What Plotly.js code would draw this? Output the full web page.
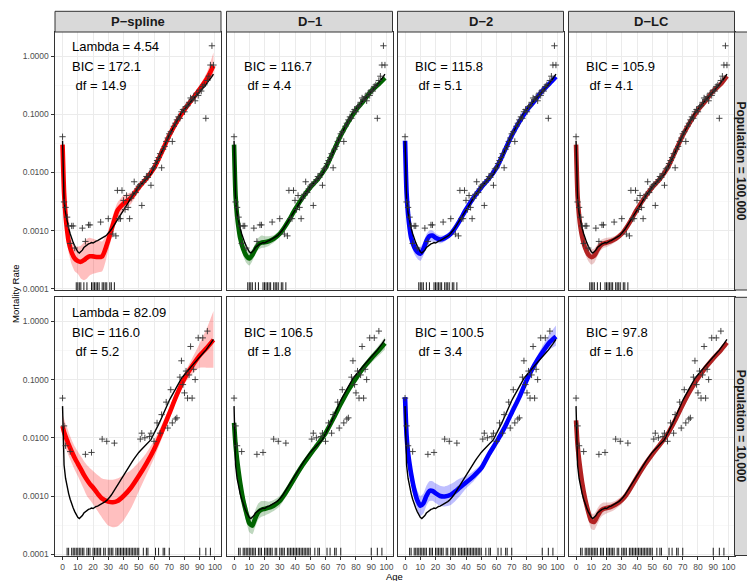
<!DOCTYPE html>
<html><head><meta charset="utf-8">
<script src="https://cdn.plot.ly/plotly-3.0.1.min.js"></script>
<style>html,body{margin:0;padding:0;background:#fff}#chart{width:747px;height:581px}</style>
</head><body><div id="chart"></div>
<script>
// ---------------- DATA ----------------
const methods = ['P\u2212spline','D\u22121','D\u22122','D\u2212LC'];
const populations = ['Population = 100,000','Population = 10,000'];
const ages = [0,1,2,3,4,5,6,7,8,9,10,11,12,13,14,15,16,17,18,19,20,21,22,23,24,25,26,27,28,29,30,31,32,33,34,35,36,37,38,39,40,41,42,43,44,45,46,47,48,49,50,51,52,53,54,55,56,57,58,59,60,61,62,63,64,65,66,67,68,69,70,71,72,73,74,75,76,77,78,79,80,81,82,83,84,85,86,87,88,89,90,91,92,93,94,95,96,97,98,99];
const trueRate = [0.035,0.0034,0.0020,0.0014,0.0011,0.00088,0.00072,0.00062,0.00054,0.00047,0.00043,0.00041,0.00043,0.00046,0.00051,0.00054,0.00056,0.00059,0.00060,0.00062,0.00061,0.00064,0.00066,0.00067,0.00069,0.00072,0.00074,0.00077,0.00080,0.00084,
0.00089,0.00096,0.00104,0.00115,0.00126,0.00140,0.00152,0.00166,0.00182,0.00200,0.00225,0.0025,0.00272,0.0030,0.00335,0.0037,0.0040,0.0044,0.0047,0.0052,0.0056,0.0060,0.0064,0.0068,0.0072,0.0076,0.0082,0.0087,0.0093,0.0105,0.0117,0.0132,0.0151,0.0170,0.0193,0.0224,0.0255,0.0295,0.0339,0.0380,0.0437,0.049,0.055,0.060,0.067,0.076,0.084,0.094,0.105,0.113,0.120,0.128,0.138,0.150,0.162,0.174,0.186,0.200,0.216,0.235,0.251,0.265,0.283,0.300,0.320,0.355,0.380,0.410,0.445,0.490];

// observed rates, population 100,000
const topObsAge = [0,1,2,3,4,5,6,7,8,13,15,17,18,25,30,33,35,36,37,38,39,40,41,42,43,44,45,46,47,48,49,50,51,52,53,54,55,56,57,58,59,60,61,62,63,64,65,66,67,68,69,70,71,72,73,74,75,76,77,78,79,80,81,82,83,84,85,86,87,88,89,90,91,92,93,94,95,96,97,98,99];
const topObsRate = [0.041,0.0031,0.0025,0.0017,0.0012,0.0006,0.0012,0.0012,0.0005,0.0011,0.00065,0.00125,0.00125,0.0014,0.0016,0.00087,0.00081,0.0049,0.0016,0.0016,0.0049,0.0033,0.0023,0.0040,0.0025,0.0016,0.0036,0.0042,0.0069,0.0045,0.0052,0.0058,0.0062,0.0027,0.0068,0.0075,0.0085,0.0082,0.0095,0.0060,0.0115,0.012,0.0142,0.016,0.018,0.021,0.012,0.025,0.028,0.034,0.039,0.046,0.050,0.034,0.062,0.070,0.080,0.090,0.085,0.110,0.120,0.110,0.135,0.140,0.160,0.190,0.180,0.200,0.170,0.230,0.210,0.260,0.250,0.300,0.320,0.085,0.380,0.450,0.700,1.500,0.700];
const topZeroAges = [9,10,11,12,14,16,19,20,21,22,23,24,26,27,28,29,31,32,34];

// observed rates, population 10,000
const botObsAge = [0,1,2,5,15,19,26,29,34,51,52,54,57,58,60,62,64,65,68,69,71,72,74,75,77,78,79,80,81,82,83,84,85,86,87,89,92,95];
const botObsRate = [0.048,0.016,0.0073,0.0058,0.0052,0.0056,0.0095,0.0087,0.0081,0.0095,0.012,0.010,0.0105,0.012,0.0087,0.018,0.012,0.025,0.041,0.0147,0.067,0.018,0.021,0.022,0.11,0.21,0.082,0.059,0.14,0.048,0.12,0.37,0.048,0.15,0.10,0.52,0.52,0.68];
const botZeroAges = [3,4,6,7,8,9,10,11,12,13,14,16,17,18,20,21,22,23,24,25,27,28,30,31,32,33,35,36,37,38,39,40,41,42,43,44,45,46,47,48,49,50,53,55,56,61,63,66,67,70,90,94,97];

// fitted curves and 95% bands
const fitAges = [0,1,2,3,4,6,8,10,12,14,16,18,20,23,26,30,33,36,40,45,50,55,60,65,70,75,80,85,90,95,99];

const psTopFit = [0.030,0.0045,0.0018,0.0010,0.00065,0.00042,0.00033,0.00030,0.00029,0.00031,0.00034,0.00036,0.00036,0.00035,0.00036,0.00068,0.00125,0.0022,0.0029,0.0037,0.0055,0.0078,0.0118,0.022,0.043,0.075,0.12,0.18,0.27,0.42,0.68];
const psTopLo  = [0.020,0.0030,0.0012,0.00065,0.00042,0.00026,0.00020,0.00018,0.00015,0.00014,0.00015,0.00017,0.00018,0.00019,0.00020,0.00045,0.0009,0.0016,0.0021,0.0029,0.0047,0.0069,0.0106,0.020,0.039,0.068,0.108,0.16,0.235,0.34,0.45];
const psTopHi  = [0.045,0.0068,0.0027,0.0015,0.0010,0.00068,0.00055,0.00053,0.00055,0.00062,0.00072,0.00075,0.00072,0.00068,0.00065,0.0010,0.0018,0.0030,0.0040,0.0046,0.0064,0.0088,0.013,0.024,0.047,0.083,0.133,0.20,0.31,0.55,1.15];

const d1TopFit = [0.030,0.0040,0.0018,0.0011,0.00075,0.00048,0.00037,0.00033,0.00038,0.00048,0.00058,0.00062,0.00063,0.00066,0.00072,0.00088,0.00113,0.0015,0.0023,0.0037,0.0055,0.0077,0.0118,0.0225,0.043,0.074,0.118,0.17,0.25,0.33,0.42];
const d1TopLo  = [0.024,0.0030,0.0014,0.00085,0.00058,0.00037,0.00028,0.00025,0.00030,0.00039,0.00047,0.00050,0.00051,0.00055,0.00062,0.00078,0.0010,0.00135,0.0021,0.0034,0.0051,0.0072,0.011,0.021,0.040,0.069,0.11,0.158,0.232,0.30,0.38];
const d1TopHi  = [0.038,0.0053,0.0023,0.0014,0.00097,0.00062,0.00049,0.00044,0.00048,0.00060,0.00075,0.00082,0.00080,0.00080,0.00083,0.00099,0.00127,0.00167,0.0025,0.0040,0.0059,0.0083,0.0127,0.024,0.046,0.079,0.127,0.183,0.27,0.36,0.47];

const d2TopFit = [0.035,0.0045,0.0019,0.0011,0.00075,0.00052,0.00043,0.00040,0.00048,0.00066,0.00080,0.00082,0.00075,0.00070,0.00074,0.00088,0.00112,0.0015,0.0023,0.0037,0.0055,0.0078,0.012,0.0225,0.043,0.074,0.118,0.17,0.25,0.34,0.44];
const d2TopLo  = [0.028,0.0035,0.0015,0.00085,0.00058,0.00040,0.00033,0.00030,0.00037,0.00050,0.00062,0.00065,0.00062,0.00060,0.00065,0.00079,0.0010,0.00136,0.0021,0.0034,0.0051,0.0073,0.0112,0.021,0.040,0.069,0.11,0.158,0.232,0.31,0.39];
const d2TopHi  = [0.044,0.0058,0.0024,0.0014,0.00097,0.00068,0.00056,0.00052,0.00062,0.00086,0.0010,0.0010,0.00090,0.00082,0.00084,0.00098,0.00125,0.00166,0.0025,0.0040,0.0059,0.0083,0.0128,0.024,0.046,0.079,0.127,0.183,0.27,0.38,0.50];

const lcTopFit = [0.030,0.0040,0.0018,0.0011,0.00078,0.00050,0.00039,0.00035,0.00037,0.00046,0.00055,0.00060,0.00062,0.00066,0.00072,0.00088,0.00112,0.0015,0.0023,0.0037,0.0055,0.0077,0.0118,0.0225,0.043,0.074,0.118,0.17,0.25,0.33,0.45];
const lcTopLo  = [0.024,0.0031,0.0014,0.00087,0.00061,0.00039,0.00030,0.00026,0.00028,0.00036,0.00045,0.00050,0.00052,0.00057,0.00064,0.00080,0.00102,0.00137,0.0021,0.0034,0.0051,0.0072,0.011,0.021,0.040,0.069,0.11,0.16,0.235,0.31,0.41];
const lcTopHi  = [0.038,0.0052,0.0023,0.0014,0.0010,0.00064,0.00050,0.00048,0.00049,0.00058,0.00068,0.00072,0.00075,0.00077,0.00082,0.00097,0.00124,0.00165,0.0025,0.0040,0.0059,0.0083,0.0127,0.024,0.046,0.079,0.127,0.18,0.265,0.35,0.50];

const psBotFit = [0.016,0.0125,0.0105,0.0090,0.0077,0.0058,0.0045,0.0036,0.0029,0.0023,0.0019,0.0016,0.0014,0.0011,0.0009,0.0008,0.00078,0.00082,0.0010,0.0014,0.0022,0.0036,0.0063,0.0125,0.026,0.055,0.105,0.17,0.26,0.36,0.48];
const psBotLo  = [0.0095,0.0075,0.0066,0.0057,0.0049,0.0037,0.0028,0.0022,0.0017,0.0013,0.0010,0.00085,0.00072,0.00055,0.00042,0.00031,0.00029,0.00030,0.00038,0.00062,0.0012,0.0023,0.0044,0.0095,0.021,0.046,0.085,0.125,0.16,0.16,0.16];
const psBotHi  = [0.025,0.021,0.0175,0.015,0.0125,0.0092,0.0071,0.0058,0.0048,0.0040,0.0034,0.0030,0.0027,0.0023,0.0020,0.0019,0.0019,0.0020,0.0023,0.0028,0.0038,0.0055,0.009,0.0165,0.032,0.066,0.13,0.23,0.42,0.80,1.5];

const d1BotFit = [0.018,0.0075,0.0042,0.0026,0.0017,0.00085,0.00052,0.00034,0.00031,0.00042,0.00053,0.00058,0.00060,0.00063,0.00068,0.00082,0.00105,0.0014,0.0021,0.0034,0.0052,0.0078,0.012,0.021,0.038,0.066,0.105,0.16,0.23,0.32,0.42];
const d1BotLo  = [0.011,0.0050,0.0029,0.0018,0.0012,0.00060,0.00037,0.00024,0.00022,0.00030,0.00040,0.00044,0.00046,0.00050,0.00055,0.00067,0.00088,0.0012,0.0018,0.0030,0.0046,0.0069,0.0107,0.0188,0.034,0.059,0.093,0.14,0.195,0.26,0.33];
const d1BotHi  = [0.028,0.011,0.0060,0.0037,0.0024,0.0012,0.00074,0.00048,0.00044,0.00058,0.00075,0.00082,0.00082,0.00080,0.00085,0.0010,0.00126,0.00165,0.0025,0.0039,0.0059,0.0088,0.0135,0.0235,0.043,0.074,0.119,0.185,0.27,0.39,0.54];

const d2BotFit = [0.050,0.011,0.0055,0.0035,0.0024,0.0013,0.00085,0.00068,0.00075,0.0010,0.00122,0.00122,0.00112,0.0010,0.00098,0.00105,0.0012,0.0014,0.0017,0.0022,0.0030,0.0052,0.0085,0.0145,0.027,0.050,0.10,0.18,0.29,0.44,0.55];
const d2BotLo  = [0.040,0.008,0.0040,0.0025,0.0017,0.0009,0.00058,0.00045,0.00050,0.00068,0.00082,0.00083,0.00076,0.00068,0.00066,0.00070,0.00082,0.0010,0.00135,0.0018,0.0026,0.0045,0.0075,0.0128,0.024,0.045,0.088,0.155,0.24,0.33,0.38];
const d2BotHi  = [0.062,0.015,0.0075,0.0048,0.0033,0.0018,0.00125,0.0010,0.0011,0.0015,0.0018,0.0018,0.00165,0.0015,0.00145,0.0016,0.0018,0.0020,0.0022,0.0027,0.0035,0.0060,0.0097,0.0165,0.031,0.057,0.115,0.21,0.37,0.62,0.85];

const lcBotFit = [0.020,0.0075,0.0042,0.0026,0.0017,0.00088,0.00054,0.00037,0.00036,0.00045,0.00055,0.00060,0.00062,0.00065,0.00071,0.00085,0.00105,0.0014,0.0021,0.0034,0.0052,0.0076,0.0115,0.020,0.037,0.065,0.105,0.16,0.23,0.32,0.43];
const lcBotLo  = [0.014,0.0055,0.0031,0.0020,0.0013,0.00066,0.00040,0.00027,0.00026,0.00033,0.00042,0.00047,0.00050,0.00054,0.00060,0.00073,0.00092,0.00124,0.0019,0.0031,0.0048,0.0070,0.0106,0.0184,0.034,0.060,0.097,0.147,0.21,0.29,0.37];
const lcBotHi  = [0.028,0.010,0.0057,0.0034,0.0022,0.00115,0.00072,0.00050,0.00050,0.00061,0.00072,0.00077,0.00077,0.00078,0.00084,0.00099,0.0012,0.00158,0.0023,0.0037,0.0056,0.0082,0.0125,0.0218,0.040,0.070,0.114,0.174,0.25,0.35,0.50];

const statLines = [
  ['Lambda = 4.54','BIC = 172.1','\u00A0df = 14.9'],
  ['BIC = 116.7','\u00A0df = 4.4'],
  ['BIC = 115.8','\u00A0df = 5.1'],
  ['BIC = 105.9','\u00A0df = 4.1'],
  ['Lambda = 82.09','BIC = 116.0','\u00A0df = 5.2'],
  ['BIC = 106.5','\u00A0df = 1.8'],
  ['BIC = 100.5','\u00A0df = 3.4'],
  ['BIC = 97.8','\u00A0df = 1.6']
];
const xTickVals = [0,10,20,30,40,50,60,70,80,90,100];
const yTickVals = [0.0001,0.001,0.01,0.1,1];
const yTickText = ['0.0001','0.0010','0.0100','0.1000','1.0000'];
const yMinorVals = [0.000316,0.00316,0.0316,0.316];

// ---------------- STYLE / LAYOUT ----------------
const W=747,H=581;
const px=x=>x/W, py=y=>1-y/H;
const FONT='Liberation Sans, Arial, Helvetica, sans-serif';
const colX=[[55,221],[226.5,392.5],[397.5,563.5],[568.5,734.5]];
const rowY=[[32,290],[297.3,555.5]];
const methodColor=['#FF0000','#006400','#0000FF','#B22222'];
const methodFill=['rgba(255,0,0,0.25)','rgba(0,100,0,0.25)','rgba(0,0,255,0.25)','rgba(178,34,34,0.25)'];
const fits=[[psTopFit,psTopLo,psTopHi],[d1TopFit,d1TopLo,d1TopHi],[d2TopFit,d2TopLo,d2TopHi],[lcTopFit,lcTopLo,lcTopHi],
            [psBotFit,psBotLo,psBotHi],[d1BotFit,d1BotLo,d1BotHi],[d2BotFit,d2BotLo,d2BotHi],[lcBotFit,lcBotLo,lcBotHi]];
const obs=[[topObsAge,topObsRate,topZeroAges],[botObsAge,botObsRate,botZeroAges]];
const statY=[[[46.7,66.7,86],[66.7,86]],[[312.7,332,351.7],[332,351.7]]];

const traces=[], shapes=[], annotations=[];
const layout={width:W,height:H,margin:{l:0,r:0,t:0,b:0,pad:0},paper_bgcolor:'#fff',plot_bgcolor:'#fff',showlegend:false,font:{family:FONT}};

for(let r=0;r<2;r++){
  for(let c=0;c<4;c++){
    const k=r*4+c, s=k===0?'':String(k+1), xa='x'+s, ya='y'+s;
    const [f,lo,hi]=fits[k];
    const sp={shape:'spline',smoothing:0.6};
    traces.push({x:fitAges,y:lo,mode:'lines',line:Object.assign({width:0},sp),xaxis:xa,yaxis:ya,hoverinfo:'skip'});
    traces.push({x:fitAges,y:hi,mode:'lines',fill:'tonexty',fillcolor:methodFill[c],line:Object.assign({width:0},sp),xaxis:xa,yaxis:ya,hoverinfo:'skip'});
    traces.push({x:fitAges,y:f,mode:'lines',line:Object.assign({width:4.6,color:methodColor[c]},sp),xaxis:xa,yaxis:ya});
    traces.push({x:ages,y:trueRate,mode:'lines',line:{width:1.4,color:'#000'},xaxis:xa,yaxis:ya});
    traces.push({x:obs[r][0],y:obs[r][1],mode:'markers',marker:{symbol:'cross-thin',size:4.5,line:{width:0.9,color:'#333'}},xaxis:xa,yaxis:ya});
    obs[r][2].forEach(a=>shapes.push({type:'line',xref:xa,yref:ya+' domain',x0:a,x1:a,y0:0,y1:0.03,line:{color:'#000',width:0.9}}));

    layout['xaxis'+s]={domain:[px(colX[c][0]),px(colX[c][1])],range:[-4.95,103.95],anchor:ya,
      tickmode:'array',tickvals:xTickVals,showticklabels:r===1,ticks:r===1?'outside':'',ticklen:3.5,tickwidth:1,tickcolor:'#333',
      tickfont:{family:FONT,size:8.5,color:'#4D4D4D'},showgrid:true,gridcolor:'#EBEBEB',gridwidth:1,zeroline:false,
      showline:true,linecolor:'#333',linewidth:1,mirror:true,fixedrange:true};
    layout['yaxis'+s]={type:'log',domain:[py(rowY[r][1]),py(rowY[r][0])],range:[-4.022,0.413],anchor:xa,
      tickmode:'array',tickvals:yTickVals,ticktext:yTickText,showticklabels:c===0,ticks:c===0?'outside':'',ticklen:3.5,tickwidth:1,tickcolor:'#333',
      tickfont:{family:FONT,size:8.5,color:'#4D4D4D'},showgrid:true,gridcolor:'#EBEBEB',gridwidth:1,
      minor:{tickvals:yMinorVals,showgrid:true,gridcolor:'#F3F3F3',gridwidth:0.6,ticks:''},
      zeroline:false,showline:true,linecolor:'#333',linewidth:1,mirror:true,fixedrange:true};

    const lines=statLines[k], ys=statY[r][c===0?0:1];
    lines.forEach((t,i)=>annotations.push({xref:'paper',yref:'paper',x:px(colX[c][0]+15),y:py(ys[i]),xanchor:'left',yanchor:'middle',showarrow:false,text:t,font:{family:FONT,size:13,color:'#000'}}));
  }
}
// strips
for(let c=0;c<4;c++){
  shapes.push({type:'rect',xref:'paper',yref:'paper',x0:px(colX[c][0]),x1:px(colX[c][1]),y0:py(32),y1:py(11.3),fillcolor:'#D9D9D9',line:{color:'#333',width:1}});
  annotations.push({xref:'paper',yref:'paper',x:px((colX[c][0]+colX[c][1])/2),y:py(21.7),xanchor:'center',yanchor:'middle',showarrow:false,text:'<b>'+methods[c]+'</b>',font:{family:FONT,size:13,color:'#1A1A1A'}});
}
for(let r=0;r<2;r++){
  shapes.push({type:'rect',xref:'paper',yref:'paper',x0:px(734.5),x1:px(752),y0:py(rowY[r][1]),y1:py(rowY[r][0]),fillcolor:'#D9D9D9',line:{color:'#333',width:1}});
  annotations.push({xref:'paper',yref:'paper',x:px(740.6),y:py((rowY[r][0]+rowY[r][1])/2),xanchor:'center',yanchor:'middle',textangle:90,showarrow:false,borderpad:0,text:'<b>'+populations[r]+'</b>',font:{family:FONT,size:12,color:'#1A1A1A'}});
}
annotations.push({xref:'paper',yref:'paper',x:px(15),y:py(294),xanchor:'center',yanchor:'middle',textangle:-90,showarrow:false,text:'Mortality Rate',font:{family:FONT,size:9.5,color:'#000'}});
annotations.push({xref:'paper',yref:'paper',x:px(394.5),y:py(576),xanchor:'center',yanchor:'middle',showarrow:false,text:'Age',font:{family:FONT,size:9.5,color:'#000'}});
layout.shapes=shapes; layout.annotations=annotations;
Plotly.newPlot('chart',traces,layout,{staticPlot:true,displayModeBar:false});
</script></body></html>
